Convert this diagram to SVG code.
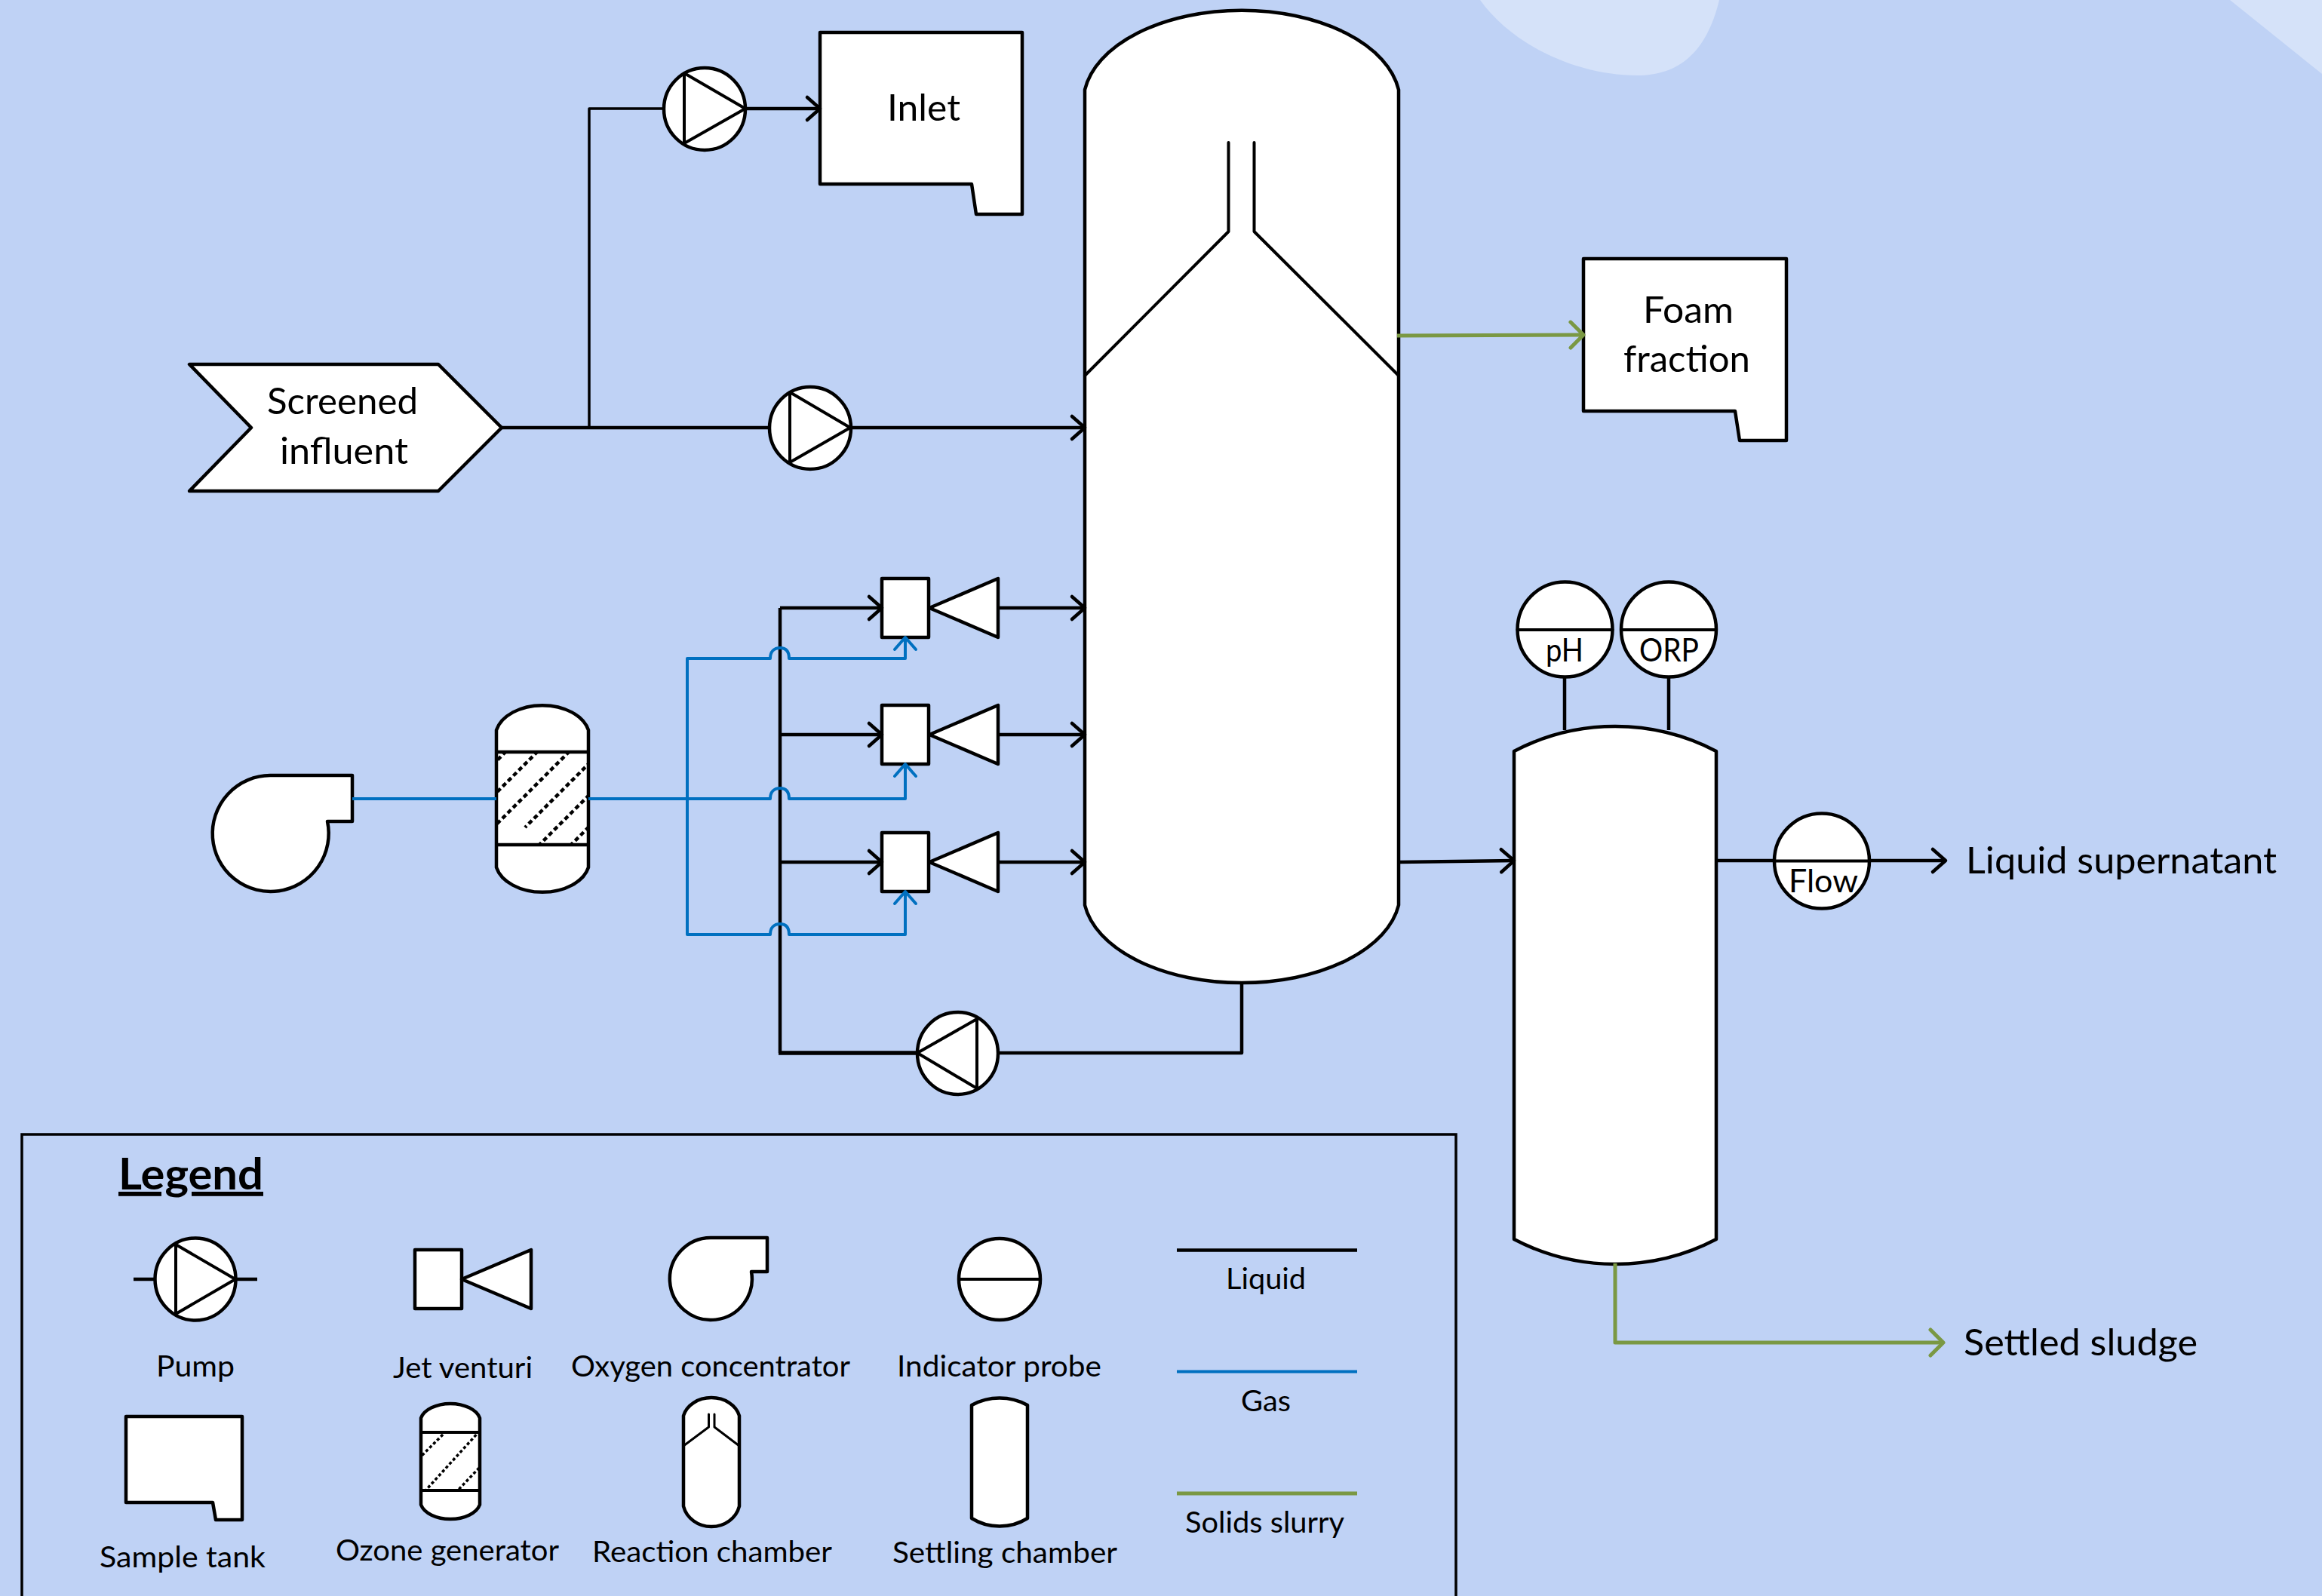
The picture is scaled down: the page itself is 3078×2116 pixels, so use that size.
<svg xmlns="http://www.w3.org/2000/svg" width="3078" height="2116" viewBox="0 0 3078 2116">
<style>
.s{fill:#fff;stroke:#000;stroke-width:4.5;stroke-linejoin:round;stroke-linecap:round}
.i{fill:none;stroke:#000;stroke-width:4;stroke-linejoin:round;stroke-linecap:round}
.l{fill:none;stroke:#000;stroke-width:4.5;stroke-linejoin:round}
.g{fill:none;stroke:#0070C0;stroke-width:4;stroke-linejoin:round}
.o{fill:none;stroke:#7A9843;stroke-width:5;stroke-linejoin:round}
.h{fill:none;stroke:#000;stroke-width:4.5;stroke-dasharray:6 4}
.t{font-family:Lato,"Liberation Sans",sans-serif;font-size:48px;fill:#000}
.m{font-family:Lato,"Liberation Sans",sans-serif;font-size:39px;fill:#000}
.p{font-family:Lato,"Liberation Sans",sans-serif;font-size:42px;fill:#000}
.b{font-family:Lato,"Liberation Sans",sans-serif;font-size:58px;font-weight:700;fill:#000}
</style>
<defs>
<marker id="ak" markerUnits="userSpaceOnUse" markerWidth="40" markerHeight="40" viewBox="-24 -20 30 40" refX="0" refY="0" orient="auto"><path d="M-17,-15 L0,0 L-17,15" fill="none" stroke="#000" stroke-width="4.5" stroke-linecap="round" stroke-linejoin="round"/></marker>
<marker id="ab" markerUnits="userSpaceOnUse" markerWidth="40" markerHeight="40" viewBox="-24 -20 30 40" refX="0" refY="0" orient="auto"><path d="M-16,-14 L0,0 L-16,14" fill="none" stroke="#0070C0" stroke-width="4" stroke-linecap="round" stroke-linejoin="round"/></marker>
<marker id="ag" markerUnits="userSpaceOnUse" markerWidth="40" markerHeight="40" viewBox="-24 -20 30 40" refX="0" refY="0" orient="auto"><path d="M-17,-17 L0,0 L-17,17" fill="none" stroke="#7A9843" stroke-width="5" stroke-linecap="round" stroke-linejoin="round"/></marker>
<clipPath id="c1"><rect x="658" y="997" width="123" height="123"/></clipPath>
<clipPath id="c2"><rect x="558" y="1899" width="78" height="77"/></clipPath>
</defs>

<rect id="background" width="3078" height="2116" fill="#BFD2F5"/>
<path d="M1962,0 C2005,60 2090,100 2170,100 C2225,100 2262,70 2279,0 Z" fill="#D5E2F9"/>
<path d="M2956,0 L3078,98 L3078,0 Z" fill="#D5E2F9"/>

<g id="reaction-chamber">
<path class="s" d="M1438,119 A210,122 0 0 1 1854,119 L1854,1200 A210,119.500 0 0 1 1438,1200 Z"/>
<path class="i" d="M1628.500,189 L1628.500,307 L1438,498 M1662.500,189 L1662.500,307 L1854,498"/>
</g>
<g id="screened-influent">
<path class="s" d="M251,483 L581,483 L665,567 L581,651 L251,651 L333,567 Z"/>
<text class="t" x="354" y="549" textLength="200" lengthAdjust="spacingAndGlyphs">Screened</text>
<text class="t" x="371" y="615" textLength="170" lengthAdjust="spacingAndGlyphs">influent</text>
</g>
<g id="pump-inlet">
<ellipse class="s" cx="934" cy="144.500" rx="54" ry="54.500"/>
<path class="i" d="M907,97 L907,190 L988,144 Z"/>
</g>
<g id="inlet">
<path class="s" d="M1087,43 L1355,43 L1355,284 L1294,284 L1288,244 L1087,244 Z"/>
<text class="t" x="1176" y="160" textLength="97" lengthAdjust="spacingAndGlyphs">Inlet</text>
</g>
<g id="pump-main">
<ellipse class="s" cx="1074" cy="567.500" rx="54" ry="54.500"/>
<path class="i" d="M1047,520 L1047,613 L1127,567 Z"/>
</g>
<g id="foam-fraction">
<path class="s" d="M2099,343 L2368,343 L2368,584 L2306,584 L2300,545 L2099,545 Z"/>
<text class="t" x="2178" y="428" textLength="120" lengthAdjust="spacingAndGlyphs">Foam</text>
<text class="t" x="2152" y="493" textLength="168" lengthAdjust="spacingAndGlyphs">fraction</text>
</g>
<g id="oxygen-concentrator">
<path class="s" d="M358,1028 L467,1028 L467,1089 L434,1089 A77,77 0 1 1 358,1028 Z"/>
</g>
<g id="ozone-generator">
<path class="s" d="M658,968 A62.500,42 0 0 1 780,968 L780,1150 A62.500,42 0 0 1 658,1150 Z"/>
<path class="h" clip-path="url(#c1)" d="M770,897 L570,1097 M812,897 L612,1097 M854,897 L654,1097 M896,897 L696,1097 M958,877 L678,1157 M1000,877 L720,1157"/>
<path class="l" d="M658,997 L780,997 M658,1120 L780,1120"/>
</g>
<g id="venturi-1">
<rect class="s" x="1169" y="767" width="62" height="78"/>
<path class="s" d="M1232,806 L1323,767 L1323,845 Z"/>
</g>
<g id="venturi-2">
<rect class="s" x="1169" y="935" width="62" height="78"/>
<path class="s" d="M1232,974 L1323,935 L1323,1013 Z"/>
</g>
<g id="venturi-3">
<rect class="s" x="1169" y="1104" width="62" height="78"/>
<path class="s" d="M1232,1143 L1323,1104 L1323,1182 Z"/>
</g>
<g id="pump-recycle">
<ellipse class="s" cx="1269.500" cy="1396.500" rx="53.500" ry="54.500"/>
<path class="i" d="M1216,1396 L1295,1351 L1295,1443 Z"/>
</g>
<g id="settling-chamber">
<path class="s" d="M2007,996 A289,289 0 0 1 2275,996 L2275,1643 A289,289 0 0 1 2007,1643 Z"/>
</g>
<g id="probe-ph">
<ellipse class="s" cx="2074.500" cy="834.500" rx="63" ry="63"/>
<path class="i" d="M2011.500,835 L2137.500,835"/>
<text class="p" x="2049" y="877" textLength="50" lengthAdjust="spacingAndGlyphs">pH</text>
</g>
<g id="probe-orp">
<ellipse class="s" cx="2212" cy="834.500" rx="63" ry="63"/>
<path class="i" d="M2149,835 L2275,835"/>
<text class="p" x="2173" y="877" textLength="79" lengthAdjust="spacingAndGlyphs">ORP</text>
</g>
<g id="probe-flow">
<ellipse class="s" cx="2415" cy="1141.500" rx="63" ry="63"/>
<path class="i" d="M2352,1141.500 L2478,1141.500"/>
<text class="p" x="2371" y="1183" textLength="92" lengthAdjust="spacingAndGlyphs">Flow</text>
</g>
<g id="liquid-supernatant"><text class="t" x="2606" y="1158" textLength="412" lengthAdjust="spacingAndGlyphs">Liquid supernatant</text></g>
<g id="settled-sludge"><text class="t" x="2603" y="1797" textLength="310" lengthAdjust="spacingAndGlyphs">Settled sludge</text></g>

<g id="connectors">
<path class="l" d="M665,567 L1020,567"/>
<path class="l" style="stroke-width:3.500" d="M781,567 L781,144 L880,144"/>
<path class="l" marker-end="url(#ak)" d="M988,144 L1087,144"/>
<path class="l" marker-end="url(#ak)" d="M1127,567 L1438,567"/>
<path class="l" d="M1034,806 L1034,1396"/>
<path class="l" marker-end="url(#ak)" d="M1034,806 L1169,806"/>
<path class="l" marker-end="url(#ak)" d="M1034,974 L1169,974"/>
<path class="l" marker-end="url(#ak)" d="M1034,1143 L1169,1143"/>
<path class="l" marker-end="url(#ak)" d="M1323,806 L1438,806"/>
<path class="l" marker-end="url(#ak)" d="M1323,974 L1438,974"/>
<path class="l" marker-end="url(#ak)" d="M1323,1143 L1438,1143"/>
<path class="l" style="stroke-width:5.500" d="M1032,1396 L1216,1396"/>
<path class="l" d="M1323,1396 L1646,1396 L1646,1303"/>
<path class="l" marker-end="url(#ak)" d="M1854,1143 L2007,1141"/>
<path class="l" d="M2074,897 L2074,968 M2212,897 L2212,968"/>
<path class="l" d="M2275,1141 L2352,1141"/>
<path class="l" marker-end="url(#ak)" d="M2478,1141 L2579,1141"/>
<path class="g" d="M467,1059 L658,1059"/>
<path class="g" marker-end="url(#ab)" d="M780,1059 L1021,1059 C1021,1050 1026,1045 1034,1045 C1042,1045 1046,1050 1046,1059 L1200,1059 L1200,1013"/>
<path class="g" marker-end="url(#ab)" d="M911,1059 L911,873 L1021,873 C1021,864 1026,859 1034,859 C1042,859 1046,864 1046,873 L1200,873 L1200,845"/>
<path class="g" marker-end="url(#ab)" d="M911,1059 L911,1239 L1021,1239 C1021,1230 1026,1225 1034,1225 C1042,1225 1046,1230 1046,1239 L1200,1239 L1200,1182"/>
<path class="o" marker-end="url(#ag)" d="M1852,445 L2099,444"/>
<path class="o" marker-end="url(#ag)" d="M2141,1675 L2141,1780 L2576,1780"/>
</g>

<g id="legend">
<path fill="none" stroke="#000" stroke-width="3.500" d="M29,2116 L29,1504 L1930,1504 L1930,2116"/>
<text class="b" x="157" y="1577" textLength="192" lengthAdjust="spacingAndGlyphs" text-decoration="underline">Legend</text>
<g id="legend-pump">
<path class="l" d="M177,1696 L205,1696 M312,1696 L341,1696"/>
<ellipse class="s" cx="259" cy="1696" rx="53.500" ry="54.500"/>
<path class="i" d="M233,1650 L233,1742 L312,1696 Z"/>
<text class="m" x="207" y="1825" textLength="104" lengthAdjust="spacingAndGlyphs">Pump</text>
</g>
<g id="legend-venturi">
<rect class="s" x="550" y="1657" width="62" height="78"/>
<path class="s" d="M612,1696 L704,1657 L704,1735 Z"/>
<text class="m" x="521" y="1827" textLength="185" lengthAdjust="spacingAndGlyphs">Jet venturi</text>
</g>
<g id="legend-concentrator">
<path class="s" d="M942,1641 L1017,1641 L1017,1686 L996,1686 A54.500,54.500 0 1 1 942,1641 Z"/>
<text class="m" x="757" y="1825" textLength="370" lengthAdjust="spacingAndGlyphs">Oxygen concentrator</text>
</g>
<g id="legend-probe">
<ellipse class="s" cx="1325" cy="1696" rx="54" ry="54"/>
<path class="i" d="M1271,1696 L1379,1696"/>
<text class="m" x="1189" y="1825" textLength="271" lengthAdjust="spacingAndGlyphs">Indicator probe</text>
</g>
<g id="legend-liquid">
<path class="l" d="M1560,1657.500 L1799,1657.500"/>
<text class="m" x="1625" y="1709" textLength="106" lengthAdjust="spacingAndGlyphs">Liquid</text>
</g>
<g id="legend-gas">
<path class="g" d="M1560,1818.500 L1799,1818.500"/>
<text class="m" x="1645" y="1871" textLength="66" lengthAdjust="spacingAndGlyphs">Gas</text>
</g>
<g id="legend-slurry">
<path class="o" d="M1560,1980 L1799,1980"/>
<text class="m" x="1571" y="2032" textLength="211" lengthAdjust="spacingAndGlyphs">Solids slurry</text>
</g>
<g id="legend-tank">
<path class="s" d="M167,1878 L321,1878 L321,2015 L286,2015 L282,1992 L167,1992 Z"/>
<text class="m" x="132" y="2078" textLength="220" lengthAdjust="spacingAndGlyphs">Sample tank</text>
</g>
<g id="legend-ozone">
<path class="s" d="M558,1880 A40,24.500 0 0 1 636,1880 L636,1995 A40,24.500 0 0 1 558,1995 Z"/>
<path class="h" style="stroke-width:3.500;stroke-dasharray:4 3" clip-path="url(#c2)" d="M592,1897 L556,1933 M636,1897 L556,1985 M640,1941 L604,1979"/>
<path class="i" d="M558,1899 L636,1899 M558,1976 L636,1976"/>
<text class="m" x="445" y="2069" textLength="296" lengthAdjust="spacingAndGlyphs">Ozone generator</text>
</g>
<g id="legend-reaction">
<path class="s" d="M906,1877 A38,31 0 0 1 980,1877 L980,1997 A38,35 0 0 1 906,1997 Z"/>
<path class="i" style="stroke-width:3" d="M939.500,1875 L939.500,1892 L906,1917 M947,1875 L947,1892 L980,1917"/>
<text class="m" x="785" y="2071" textLength="318" lengthAdjust="spacingAndGlyphs">Reaction chamber</text>
</g>
<g id="legend-settling">
<path class="s" d="M1288,1863 A77,77 0 0 1 1362,1863 L1362,2013 A70,70 0 0 1 1288,2013 Z"/>
<text class="m" x="1183" y="2072" textLength="298" lengthAdjust="spacingAndGlyphs">Settling chamber</text>
</g>
</g>
</svg>
